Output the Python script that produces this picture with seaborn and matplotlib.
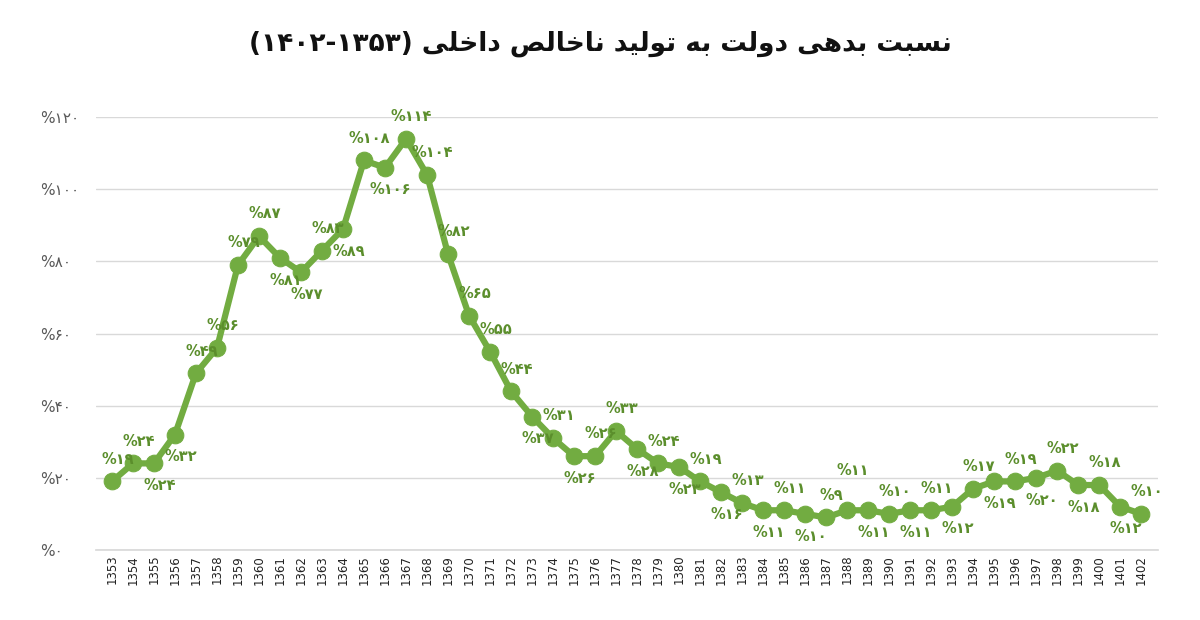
import matplotlib
matplotlib.use("Agg")
import matplotlib.pyplot as plt
import seaborn as sns
import pandas as pd

years = list(range(1353, 1403))
ratio = [19, 24, 24, 32, 49, 56, 79, 87, 81, 77,
         83, 89, 108, 106, 114, 104, 82, 65, 55, 44,
         37, 31, 26, 26, 33, 28, 24, 23, 19, 16,
         13, 11, 11, 10, 9, 11, 11, 10, 11, 11,
         12, 17, 19, 19, 20, 22, 18, 18, 12, 10]
# label side: 1 above, -1 below
side = [1, 1, -1, -1, 1, 1, 1, 1, -1, -1,
        1, -1, 1, -1, 1, 1, 1, 1, 1, 1,
        -1, 1, -1, 1, 1, -1, 1, -1, 1, -1,
        1, -1, 1, -1, 1, 1.8, -1, 1, -1, 1,
        -1, 1, -1, 1, -1, 1, -1, 1, -1, 1]
yticks = [0, 20, 40, 60, 80, 100, 120]

FA = "۰۱۲۳۴۵۶۷۸۹"
def fa(n):
    return "".join(FA[int(c)] for c in str(n))

# minimal arabic shaping: (iso, fin, ini, med); None = no left join
FORMS = {
    "ا": (0xFE8D, 0xFE8E, None, None), "ب": (0xFE8F, 0xFE90, 0xFE91, 0xFE92),
    "ت": (0xFE95, 0xFE96, 0xFE97, 0xFE98), "خ": (0xFEA5, 0xFEA6, 0xFEA7, 0xFEA8),
    "د": (0xFEA9, 0xFEAA, None, None), "س": (0xFEB1, 0xFEB2, 0xFEB3, 0xFEB4),
    "ص": (0xFEB9, 0xFEBA, 0xFEBB, 0xFEBC), "ل": (0xFEDD, 0xFEDE, 0xFEDF, 0xFEE0),
    "ن": (0xFEE5, 0xFEE6, 0xFEE7, 0xFEE8), "ه": (0xFEE9, 0xFEEA, 0xFEEB, 0xFEEC),
    "و": (0xFEED, 0xFEEE, None, None), "ی": (0xFEEF, 0xFEF0, 0xFEF3, 0xFEF4),
}
def shape(text):
    out = []
    for i, ch in enumerate(text):
        f = FORMS.get(ch)
        if f is None:
            out.append(ch)
            continue
        prev = text[i - 1] if i > 0 else " "
        nxt = text[i + 1] if i + 1 < len(text) else " "
        jp = prev in FORMS and FORMS[prev][2] is not None
        jn = nxt in FORMS and f[2] is not None
        if jp and jn:
            c = f[3]
        elif jp:
            c = f[1]
        elif jn:
            c = f[2]
        else:
            c = f[0]
        out.append(chr(c))
    return "".join(out)[::-1]

title = "(" + fa(1402) + "-" + fa(1353) + ") " + shape("نسبت بدهی دولت به تولید ناخالص داخلی")

df = pd.DataFrame({"year": years, "ratio": ratio})

sns.set_theme(style="white")
plt.rcParams["font.family"] = ["DejaVu Sans"]
fig = plt.figure(figsize=(12, 6.2), dpi=100)
ax = fig.add_axes([0.08, 0.113, 0.885, 0.698])
green = "#72ac41"
sns.lineplot(data=df, x="year", y="ratio", ax=ax, color=green, lw=4.5,
             marker="o", markersize=12, markeredgecolor=green, markerfacecolor=green)
for x, y, s in zip(years, ratio, side):
    ax.annotate("%" + fa(y), (x, y), xytext=(4, 16 * s), textcoords="offset points",
                ha="center", va="center", fontsize=10.5, color="#5b8e2c", fontweight="bold")

ax.set_xlim(1353 - 0.76, 1402 + 0.8)
ax.set_ylim(0, 120)
ax.set_yticks(yticks)
ax.set_yticklabels(["%" + fa(v) for v in yticks], color="#595959", fontsize=11)
ax.set_xticks(years)
ax.set_xticklabels([str(y) for y in years], rotation=90, fontsize=8.5, color="#222222")
ax.grid(axis="y", color="#d9d9d9", lw=1)
ax.set_xlabel("")
ax.set_ylabel("")
for sp in ["top", "right", "left"]:
    ax.spines[sp].set_visible(False)
ax.spines["bottom"].set_color("#d9d9d9")
ax.tick_params(axis="y", length=0, pad=40)
ax.tick_params(axis="x", length=0)
for t in ax.get_yticklabels():
    t.set_horizontalalignment("left")
fig.text(0.5, 0.93, title, ha="center", va="center", fontsize=19, fontweight="bold", color="#111111")
fig.savefig("out.png")
